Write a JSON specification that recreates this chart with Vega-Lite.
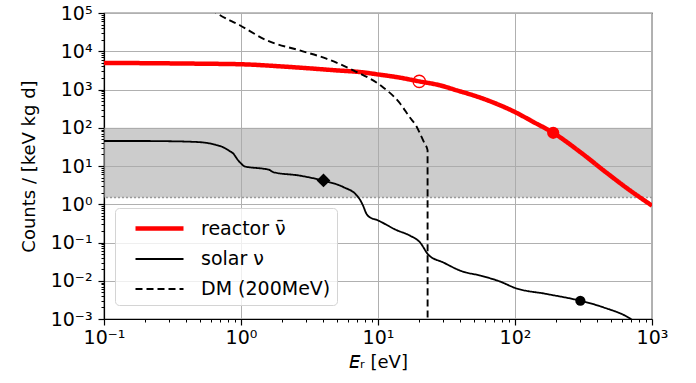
{
  "$schema": "https://vega.github.io/schema/vega-lite/v6.json",
  "width": 548,
  "height": 306,
  "autosize": "none",
  "padding": {"left": 104, "top": 13, "right": 44, "bottom": 64},
  "config": {
    "view": {"stroke": "black", "strokeWidth": 1.2},
    "font": "DejaVu Sans"
  },
  "datasets": {
    "curves": [
      {"s": "reactor ν̄", "x": 0.1, "y": 4950},
      {"s": "reactor ν̄", "x": 0.2, "y": 4880},
      {"s": "reactor ν̄", "x": 0.3, "y": 4820},
      {"s": "reactor ν̄", "x": 0.5, "y": 4730},
      {"s": "reactor ν̄", "x": 1, "y": 4570},
      {"s": "reactor ν̄", "x": 2, "y": 4000},
      {"s": "reactor ν̄", "x": 2.7, "y": 3720},
      {"s": "reactor ν̄", "x": 5, "y": 3160},
      {"s": "reactor ν̄", "x": 7.4, "y": 2860},
      {"s": "reactor ν̄", "x": 10, "y": 2480},
      {"s": "reactor ν̄", "x": 14, "y": 2080},
      {"s": "reactor ν̄", "x": 20, "y": 1630},
      {"s": "reactor ν̄", "x": 28.5, "y": 1280},
      {"s": "reactor ν̄", "x": 37.7, "y": 946},
      {"s": "reactor ν̄", "x": 49.8, "y": 701},
      {"s": "reactor ν̄", "x": 70, "y": 452},
      {"s": "reactor ν̄", "x": 100, "y": 257},
      {"s": "reactor ν̄", "x": 137, "y": 140},
      {"s": "reactor ν̄", "x": 190, "y": 74},
      {"s": "reactor ν̄", "x": 300, "y": 23},
      {"s": "reactor ν̄", "x": 470, "y": 6.5},
      {"s": "reactor ν̄", "x": 659, "y": 2.6},
      {"s": "reactor ν̄", "x": 1000, "y": 0.92},
      {"s": "solar ν", "x": 0.1, "y": 45},
      {"s": "solar ν", "x": 0.2, "y": 45},
      {"s": "solar ν", "x": 0.29, "y": 44.5},
      {"s": "solar ν", "x": 0.5, "y": 42},
      {"s": "solar ν", "x": 0.65, "y": 36},
      {"s": "solar ν", "x": 0.74, "y": 31},
      {"s": "solar ν", "x": 0.82, "y": 25},
      {"s": "solar ν", "x": 0.88, "y": 21},
      {"s": "solar ν", "x": 0.94, "y": 15},
      {"s": "solar ν", "x": 0.98, "y": 12.6},
      {"s": "solar ν", "x": 1.07, "y": 9.7},
      {"s": "solar ν", "x": 1.45, "y": 8.5},
      {"s": "solar ν", "x": 1.6, "y": 8.0},
      {"s": "solar ν", "x": 1.72, "y": 6.9},
      {"s": "solar ν", "x": 2.69, "y": 5.6},
      {"s": "solar ν", "x": 3.95, "y": 4.17},
      {"s": "solar ν", "x": 5.6, "y": 2.8},
      {"s": "solar ν", "x": 7.0, "y": 1.7},
      {"s": "solar ν", "x": 7.5, "y": 1.2},
      {"s": "solar ν", "x": 7.8, "y": 0.9},
      {"s": "solar ν", "x": 8.2, "y": 0.58},
      {"s": "solar ν", "x": 8.6, "y": 0.47},
      {"s": "solar ν", "x": 9.8, "y": 0.39},
      {"s": "solar ν", "x": 13.7, "y": 0.21},
      {"s": "solar ν", "x": 17.2, "y": 0.15},
      {"s": "solar ν", "x": 20.3, "y": 0.1},
      {"s": "solar ν", "x": 23.3, "y": 0.048},
      {"s": "solar ν", "x": 30, "y": 0.03},
      {"s": "solar ν", "x": 41, "y": 0.0177},
      {"s": "solar ν", "x": 56, "y": 0.0136},
      {"s": "solar ν", "x": 78, "y": 0.0095},
      {"s": "solar ν", "x": 100, "y": 0.0065},
      {"s": "solar ν", "x": 171, "y": 0.0045},
      {"s": "solar ν", "x": 300, "y": 0.003},
      {"s": "solar ν", "x": 445, "y": 0.002},
      {"s": "solar ν", "x": 700, "y": 0.001},
      {"s": "solar ν", "x": 800, "y": 0.0007},
      {"s": "DM (200MeV)", "x": 0.6, "y": 130000},
      {"s": "DM (200MeV)", "x": 0.664, "y": 100000},
      {"s": "DM (200MeV)", "x": 0.98, "y": 47800},
      {"s": "DM (200MeV)", "x": 1.54, "y": 19300},
      {"s": "DM (200MeV)", "x": 2.69, "y": 10500},
      {"s": "DM (200MeV)", "x": 4.2, "y": 6400},
      {"s": "DM (200MeV)", "x": 6.6, "y": 3160},
      {"s": "DM (200MeV)", "x": 10.4, "y": 1290},
      {"s": "DM (200MeV)", "x": 14.5, "y": 430},
      {"s": "DM (200MeV)", "x": 17, "y": 190},
      {"s": "DM (200MeV)", "x": 19.2, "y": 105},
      {"s": "DM (200MeV)", "x": 20.3, "y": 69},
      {"s": "DM (200MeV)", "x": 21.8, "y": 40},
      {"s": "DM (200MeV)", "x": 23.0, "y": 26},
      {"s": "DM (200MeV)", "x": 23.02, "y": 0.0005}
    ],
    "band": [{"x0": 0.1, "x1": 1000, "lo": 1.5, "hi": 100}],
    "marks": [
      {"k": "open", "x": 20, "y": 1630},
      {"k": "fill", "x": 190, "y": 74},
      {"k": "diamond", "x": 4, "y": 4.2},
      {"k": "dot", "x": 300, "y": 0.003}
    ]
  },
  "resolve": {"axis": {"x": "independent", "y": "independent"}},
  "layer": [
    {
      "data": {"name": "band"},
      "mark": {"type": "rect", "fill": "#aaaaaa", "opacity": 0.6},
      "encoding": {
        "x": {"field": "x0", "type": "quantitative",
          "scale": {"type": "log", "domain": [0.1, 1000], "nice": false},
          "axis": {"orient": "bottom", "values": [0.1, 1, 10, 100, 1000],
            "grid": true, "gridColor": "#b0b0b0", "gridWidth": 1,
            "tickSize": 6, "tickColor": "black", "tickWidth": 1.2,
            "domainColor": "black", "domainWidth": 1.2,
            "labelFontSize": 19, "labelColor": "black", "labelPadding": 3, "labelFlush": false,
            "labelExpr": "'10' + (round(log(datum.value)/LN10) < 0 ? '⁻' : '') + ['⁰','¹','²','³','⁴','⁵','⁶','⁷','⁸','⁹'][abs(round(log(datum.value)/LN10))]",
            "title": "𝘌ᵣ [eV]", "titleFontSize": 18, "titleFontWeight": "normal", "titleColor": "black", "titlePadding": 6}},
        "x2": {"field": "x1"},
        "y": {"field": "lo", "type": "quantitative",
          "scale": {"type": "log", "domain": [0.001, 100000], "nice": false},
          "axis": {"orient": "left", "values": [0.001, 0.01, 0.1, 1, 10, 100, 1000, 10000, 100000],
            "grid": true, "gridColor": "#b0b0b0", "gridWidth": 1,
            "tickSize": 6, "tickColor": "black", "tickWidth": 1.2,
            "domainColor": "black", "domainWidth": 1.2,
            "labelFontSize": 19, "labelColor": "black", "labelPadding": 6, "labelFlush": false,
            "labelExpr": "'10' + (round(log(datum.value)/LN10) < 0 ? '⁻' : '') + ['⁰','¹','²','³','⁴','⁵','⁶','⁷','⁸','⁹'][abs(round(log(datum.value)/LN10))]",
            "title": "Counts / [keV kg d]", "titleFontSize": 18, "titleFontWeight": "normal", "titleColor": "black", "titlePadding": 12}},
        "y2": {"field": "hi"}
      }
    },
    {
      "data": {"name": "band"},
      "mark": {"type": "rule", "color": "#999999", "strokeWidth": 1.6, "strokeDash": [2, 2]},
      "encoding": {
        "y": {"field": "lo", "type": "quantitative", "axis": null}
      }
    },
    {
      "data": {"name": "curves"},
      "mark": {"type": "line", "clip": true, "interpolate": "monotone"},
      "encoding": {
        "x": {"field": "x", "type": "quantitative",
          "axis": {"orient": "bottom", "values": [0.2,0.3,0.4,0.5,0.6,0.7,0.8,0.9,2,3,4,5,6,7,8,9,20,30,40,50,60,70,80,90,200,300,400,500,600,700,800,900],
            "grid": false, "labels": false, "domain": false, "tickSize": 3, "tickColor": "black", "tickWidth": 1, "title": null}},
        "y": {"field": "y", "type": "quantitative",
          "axis": {"orient": "left", "values": [0.002,0.003,0.004,0.005,0.006,0.007,0.008,0.009,0.02,0.03,0.04,0.05,0.06,0.07,0.08,0.09,0.2,0.3,0.4,0.5,0.6,0.7,0.8,0.9,2,3,4,5,6,7,8,9,20,30,40,50,60,70,80,90,200,300,400,500,600,700,800,900,2000,3000,4000,5000,6000,7000,8000,9000,20000,30000,40000,50000,60000,70000,80000,90000],
            "grid": false, "labels": false, "domain": false, "tickSize": 3, "tickColor": "black", "tickWidth": 1, "title": null}},
        "color": {"field": "s", "type": "nominal", "title": null,
          "scale": {"domain": ["reactor ν̄", "solar ν", "DM (200MeV)"], "range": ["#ff0000", "#000000", "#000000"]},
          "legend": {"orient": "none", "legendX": 11, "legendY": 195, "fillColor": "rgba(255,255,255,0.8)",
            "strokeColor": "#d4d4d4", "cornerRadius": 4, "padding": 6, "labelFontSize": 19, "labelColor": "black",
            "symbolType": "M0,0L4,0", "symbolSize": 576, "rowPadding": 7, "labelOffset": 51, "labelLimit": 300}},
        "strokeDash": {"field": "s", "type": "nominal", "title": null,
          "scale": {"domain": ["reactor ν̄", "solar ν", "DM (200MeV)"], "range": [[1, 0], [1, 0], [7, 4]]}},
        "strokeWidth": {"field": "s", "type": "nominal", "title": null,
          "scale": {"type": "ordinal", "domain": ["reactor ν̄", "solar ν", "DM (200MeV)"], "range": [4.5, 1.8, 1.9]}}
      }
    },
    {
      "data": {"name": "marks"},
      "transform": [{"filter": "datum.k == 'open'"}],
      "mark": {"type": "point", "shape": "circle", "filled": false, "color": "#ff0000", "strokeWidth": 1.3, "size": 150, "opacity": 1},
      "encoding": {
        "x": {"field": "x", "type": "quantitative", "axis": null},
        "y": {"field": "y", "type": "quantitative", "axis": null}
      }
    },
    {
      "data": {"name": "marks"},
      "transform": [{"filter": "datum.k == 'fill'"}],
      "mark": {"type": "point", "shape": "circle", "filled": true, "color": "#ff0000", "size": 150, "opacity": 1},
      "encoding": {
        "x": {"field": "x", "type": "quantitative", "axis": null},
        "y": {"field": "y", "type": "quantitative", "axis": null}
      }
    },
    {
      "data": {"name": "marks"},
      "transform": [{"filter": "datum.k == 'diamond'"}],
      "mark": {"type": "point", "shape": "diamond", "filled": true, "color": "#000000", "size": 190, "opacity": 1},
      "encoding": {
        "x": {"field": "x", "type": "quantitative", "axis": null},
        "y": {"field": "y", "type": "quantitative", "axis": null}
      }
    },
    {
      "data": {"name": "marks"},
      "transform": [{"filter": "datum.k == 'dot'"}],
      "mark": {"type": "point", "shape": "circle", "filled": true, "color": "#000000", "size": 105, "opacity": 1},
      "encoding": {
        "x": {"field": "x", "type": "quantitative", "axis": null},
        "y": {"field": "y", "type": "quantitative", "axis": null}
      }
    }
  ]
}
